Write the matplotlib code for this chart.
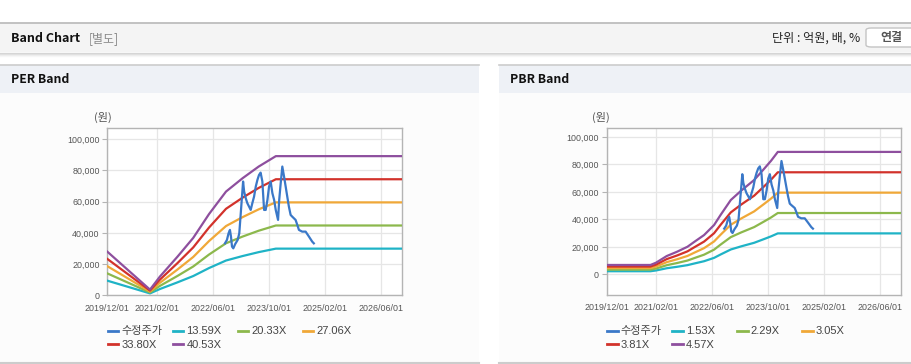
import matplotlib
matplotlib.use("Agg")
import matplotlib.pyplot as plt
import matplotlib.dates as mdates
from matplotlib.patches import Rectangle, FancyBboxPatch
from matplotlib.lines import Line2D
from matplotlib.ticker import FuncFormatter
import numpy as np
import pandas as pd

W, H = 912, 364

# ---------------- data ----------------
price_dates = ["2022-09-16", "2022-10-03", "2022-10-17", "2022-10-29", "2022-11-07",
               "2022-11-16", "2022-11-27", "2022-12-14", "2023-01-04", "2023-01-18",
               "2023-02-02", "2023-02-20", "2023-03-01", "2023-03-15", "2023-03-29",
               "2023-04-13", "2023-04-27", "2023-05-11", "2023-05-26", "2023-06-10",
               "2023-06-24", "2023-07-08", "2023-07-22", "2023-08-06", "2023-08-21",
               "2023-09-04", "2023-09-19", "2023-10-03", "2023-10-17", "2023-11-01",
               "2023-11-16", "2023-11-30", "2023-12-20", "2023-12-30", "2024-01-12",
               "2024-01-26", "2024-02-10", "2024-02-24", "2024-03-09", "2024-03-23",
               "2024-04-07", "2024-04-21", "2024-05-20", "2024-06-04", "2024-06-18",
               "2024-07-16", "2024-08-15", "2024-09-13", "2024-10-11", "2024-10-25"]
price_values = [33300, 35500, 39700, 41900, 37600,
                31200, 30100, 32900, 35500, 39700,
                54700, 72900, 66500, 62200, 59000,
                56800, 54700, 59000, 63200, 69700,
                73900, 77100, 78600, 72900, 54700,
                54700, 61100, 69700, 72900, 65400,
                61100, 54700, 48300, 61100, 71800,
                82500, 76100, 69700, 63200, 56800,
                51500, 50400, 48300, 45100, 41900,
                40800, 40800, 37600, 34400, 33300]

per_eps_dates = ["2019-12-01", "2020-12-05", "2021-03-01", "2021-08-01", "2021-12-15",
                 "2022-05-01", "2022-09-25", "2023-02-15", "2023-07-05", "2023-12-01",
                 "2026-12-01"]
per_eps = [690, 90, 296, 612, 908, 1285, 1640, 1850, 2035, 2200, 2200]
per_multiples = [13.59, 20.33, 27.06, 33.80, 40.53]
per_labels = ["13.59X", "20.33X", "27.06X", "33.80X", "40.53X"]

pbr_bps_dates = ["2019-12-01", "2020-12-15", "2021-02-01", "2021-05-05", "2021-08-03",
                 "2021-11-01", "2022-01-01", "2022-03-25", "2022-06-20", "2022-08-15",
                 "2022-11-12", "2023-02-10", "2023-06-03", "2023-09-01", "2023-10-28",
                 "2023-12-25", "2026-12-01"]
pbr_bps = [1500, 1500, 1860, 2920, 3610, 4400, 5200, 6260, 7860, 9450,
           11840, 13330, 15030, 16890, 18100, 19500, 19500]
pbr_multiples = [1.53, 2.29, 3.05, 3.81, 4.57]
pbr_labels = ["1.53X", "2.29X", "3.05X", "3.81X", "4.57X"]

price_label = "수정주가"
xtick_dates = ["2019-12-01", "2021-02-01", "2022-06-01", "2023-10-01", "2025-02-01", "2026-06-01"]
x_range = ["2019-12-01", "2026-12-01"]
y_ticks = [0, 20000, 40000, 60000, 80000, 100000]

price_color = "#3a78c8"
band_colors = ["#1fb3c6", "#8cb84c", "#f0a838", "#d2322b", "#8e4f9e"]

# ---------------- figure ----------------
KR = ["Noto Sans CJK KR", "DejaVu Sans"]
NUM = ["Liberation Sans", "Noto Sans CJK KR"]
plt.rcParams["font.family"] = NUM

fig = plt.figure(figsize=(W / 100, H / 100), dpi=100)
fig.patch.set_facecolor("white")


def fx(x):
    return x / W


def fy(y):
    return 1 - y / H


def rect(x0, y0, x1, y1, color, z=0, **kw):
    fig.add_artist(Rectangle((fx(x0), fy(y1)), fx(x1) - fx(x0), fy(y0) - fy(y1),
                             transform=fig.transFigure, facecolor=color,
                             edgecolor="none", zorder=z, **kw))


def hline(x0, x1, y, color, lw=1.0, alpha=1.0, z=1):
    fig.add_artist(Line2D([fx(x0), fx(x1)], [fy(y), fy(y)], transform=fig.transFigure,
                          color=color, lw=lw, alpha=alpha, zorder=z))


# top header band
hline(0, W, 22.5, "#b8b8b8", lw=1.2)
rect(0, 23, W, 52, "#f4f4f4")
for i, a in enumerate([0.35, 0.2, 0.1, 0.05]):
    hline(0, W, 52.5 + i, "#909090", lw=1.0, alpha=a)
fig.text(fx(11), fy(38), "Band Chart", fontsize=9.0, fontweight="bold", family=KR,
         va="center", ha="left", color="#111111")
fig.text(fx(89), fy(38.5), "[별도]", fontsize=8.6, family=KR, va="center", ha="left",
         color="#8a8a8a")
fig.text(fx(860), fy(38.5), "단위 : 억원, 배, %", fontsize=8.7, family=KR, va="center",
         ha="right", color="#222222")
fig.add_artist(FancyBboxPatch((fx(866), fy(47)), fx(60), fy(0) - fy(19),
                              boxstyle="round,pad=0,rounding_size=0.006",
                              transform=fig.transFigure, facecolor="white",
                              edgecolor="#c4c4c4", lw=1.0, zorder=2))
fig.text(fx(891.5), fy(38), "연결", fontsize=8.6, family=KR, fontweight="bold",
         va="center", ha="center", color="#555555", zorder=3)

# panels
for (x0, x1, title, tx) in [(0, 479, "PER Band", 11), (499, W, "PBR Band", 510.5)]:
    rect(x0, 93, x1, 362, "#fcfcfc")
    rect(x0, 65, x1, 93, "#eef1f6")
    hline(x0, x1, 64.5, "#cccccc", lw=1.2)
    hline(x0, x1, 362.5, "#cccccc", lw=1.5)
    fig.text(fx(tx), fy(79.5), title, fontsize=8.8, fontweight="bold", family=KR,
             va="center", ha="left", color="#111111")

fmt = FuncFormatter(lambda v, p: f"{int(v):,}")


def band_axes(rect_px, ylim, eps_dates, eps_vals, multiples, labels, unit_x):
    x0, y0, x1, y1 = rect_px
    ax = fig.add_axes([fx(x0), fy(y1), fx(x1) - fx(x0), fy(y0) - fy(y1)])
    ax.set_facecolor("white")
    d = pd.to_datetime(eps_dates)
    base = np.array(eps_vals, dtype=float)
    for m, c in zip(multiples, band_colors):
        ax.plot(d, base * m, color=c, lw=1.6, zorder=3, solid_joinstyle="round")
    ax.plot(pd.to_datetime(price_dates), price_values, color=price_color, lw=1.6,
            zorder=4, solid_joinstyle="round")
    ax.set_xlim(pd.to_datetime(x_range[0]), pd.to_datetime(x_range[1]))
    ax.set_ylim(*ylim)
    ax.set_yticks(y_ticks)
    ax.yaxis.set_major_formatter(fmt)
    ax.set_xticks(pd.to_datetime(xtick_dates))
    ax.xaxis.set_major_formatter(mdates.DateFormatter("%Y/%m/%d"))
    ax.grid(True, color="#e6e6e6", lw=0.9, zorder=0)
    ax.set_axisbelow(True)
    for s in ax.spines.values():
        s.set_color("#b4b4b4")
        s.set_linewidth(1.0)
    ax.tick_params(axis="y", length=3.5, width=0.8, color="#b4b4b4", labelsize=6.4,
                   labelcolor="#555555", pad=2)
    ax.tick_params(axis="x", length=0, labelsize=6.4, labelcolor="#555555", pad=6)
    fig.text(fx(unit_x), fy(y0 - 10.5), "(원)", fontsize=8.0, family=KR, ha="center",
             va="center", color="#555555")
    # legend
    entries = [(price_label, price_color)] + list(zip(labels, band_colors))
    for i, (lab, col) in enumerate(entries):
        r, c = divmod(i, 4)
        lx = x0 + 0.5 + c * 65
        ly = 330.7 + r * 13.5
        fig.add_artist(Line2D([fx(lx), fx(lx + 10.5)], [fy(ly), fy(ly)],
                              transform=fig.transFigure, color=col, lw=2.0))
        fig.text(fx(lx + 13.5), fy(ly + 0.5), lab, fontsize=8.0, family=NUM,
                 va="center", ha="left", color="#444444")
    return ax


band_axes((107.3, 128.3, 402.3, 295.3), (0, 107000), per_eps_dates, per_eps,
          per_multiples, per_labels, 103)
band_axes((606.7, 128.3, 901.3, 295.0), (-15000, 106300), pbr_bps_dates, pbr_bps,
          pbr_multiples, pbr_labels, 601)

fig.savefig("out.png", dpi=100, facecolor=fig.get_facecolor())
